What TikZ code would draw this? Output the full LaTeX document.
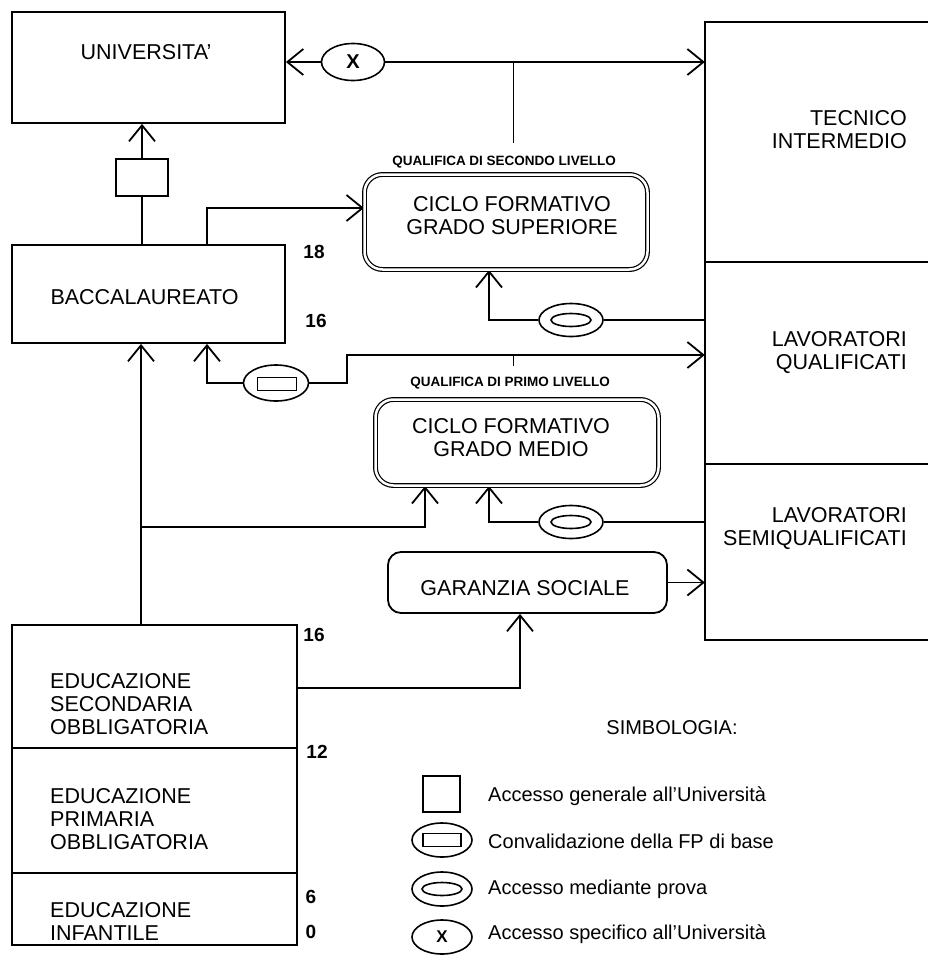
\documentclass[tikz,border=0pt]{standalone}
\usepackage{fontspec}
\setmainfont{Liberation Sans}
\usetikzlibrary{shapes.geometric,arrows.meta}
\pgfdeclarelayer{edgelayer}
\pgfdeclarelayer{nodelayer}
\pgfsetlayers{edgelayer,nodelayer,main}
\tikzstyle{box}=[rectangle, draw=black, line width=1.8pt, fill=white, inner sep=0pt]
\tikzstyle{openbox}=[rectangle, inner sep=0pt, minimum width=223pt]
\tikzstyle{roundbox}=[rectangle, rounded corners=13pt, draw=black, line width=1.8pt, fill=white, inner sep=0pt]
\tikzstyle{dblbox}=[rectangle, rounded corners=18pt, draw=black, double, double distance=2.5pt, line width=1.2pt, fill=white, inner sep=0pt]
\tikzstyle{oval}=[ellipse, draw=black, line width=1.6pt, fill=white, inner sep=0pt]
\tikzstyle{innerrect}=[rectangle, draw=black, line width=1.6pt, minimum width=39pt, minimum height=13pt, inner sep=0pt]
\tikzstyle{innerov}=[ellipse, draw=black, line width=1.6pt, minimum width=40pt, minimum height=13pt, inner sep=0pt]
\tikzstyle{txt}=[font=\fontsize{21.5}{23}\selectfont, align=center, inner sep=0pt]
\tikzstyle{legtxt}=[font=\fontsize{20}{23}\selectfont, inner sep=0pt]
\tikzstyle{qualif}=[font=\fontsize{13.5}{14}\selectfont\bfseries, inner sep=0pt]
\tikzstyle{age}=[font=\fontsize{19}{20}\selectfont\bfseries, inner sep=0pt]
\tikzstyle{plainedge}=[draw=black, line width=1.8pt]
\tikzstyle{thinedge}=[draw=black, line width=1pt]
\tikzstyle{arrowedge}=[draw=black, line width=1.8pt, -{Straight Barb[length=16pt, width=26pt]}]

\begin{document}
\begin{tikzpicture}[x=1pt, y=-1pt]
	\useasboundingbox (0, 0) rectangle (928, 956);
	\begin{pgfonlayer}{nodelayer}
		\node [style=box, minimum width=273pt, minimum height=111pt] (1) at (148.5, 67.5) {};
		\node [style=box, minimum width=52pt, minimum height=37pt] (2) at (142, 177.5) {};
		\node [style=box, minimum width=273pt, minimum height=98pt] (3) at (148.5, 294) {};
		\node [style=dblbox, minimum width=283pt, minimum height=95pt] (4) at (506, 222) {};
		\node [style=openbox, minimum height=240pt] (5) at (816.5, 142) {};
		\node [style=openbox, minimum height=202pt] (6) at (816.5, 363) {};
		\node [style=openbox, minimum height=176pt] (7) at (816.5, 552) {};
		\node [style=dblbox, minimum width=283pt, minimum height=86pt] (8) at (517, 442.5) {};
		\node [style=roundbox, minimum width=279pt, minimum height=61pt] (9) at (527.5, 582.5) {};
		\node [style=box, minimum width=285pt, minimum height=123pt] (10) at (154.5, 686.5) {};
		\node [style=box, minimum width=285pt, minimum height=125pt] (11) at (154.5, 810.5) {};
		\node [style=box, minimum width=285pt, minimum height=72pt] (12) at (154.5, 909) {};
		% simboli sulle frecce
		\node [style=oval, minimum width=63pt, minimum height=37pt, font=\fontsize{20}{20}\selectfont\bfseries] (13) at (353, 62) {X};
		\node [style=oval, minimum width=64pt, minimum height=33pt] (14) at (571, 320) {};
		\node [style=innerov] (15) at (571, 320) {};
		\node [style=oval, minimum width=65pt, minimum height=36pt] (16) at (276, 383) {};
		\node [style=innerrect] (17) at (277, 384) {};
		\node [style=oval, minimum width=64pt, minimum height=33pt] (18) at (571, 522) {};
		\node [style=innerov] (19) at (571, 522) {};
		% testi
		\node [style=txt] (t1) at (146, 52.5) {UNIVERSITA'};
		\node [style=txt] (t3) at (144.5, 297.5) {BACCALAUREATO};
		\node [style=txt] (t4) at (512, 216) {CICLO FORMATIVO\\GRADO SUPERIORE};
		\node [style=qualif] (q4) at (504, 162) {QUALIFICA DI SECONDO LIVELLO};
		\node [style=txt, anchor=east, align=right] (t5) at (907, 130) {TECNICO\\INTERMEDIO};
		\node [style=txt, anchor=east, align=right] (t6) at (907, 353) {LAVORATORI\\QUALIFICATI};
		\node [style=txt, anchor=east, align=right] (t7) at (907, 529) {LAVORATORI\\SEMIQUALIFICATI};
		\node [style=qualif] (q8) at (510, 383) {QUALIFICA DI PRIMO LIVELLO};
		\node [style=txt] (t8) at (511, 438) {CICLO FORMATIVO\\GRADO MEDIO};
		\node [style=txt] (t9) at (525, 588) {GARANZIA SOCIALE};
		\node [style=txt, anchor=west, align=left] (t10) at (50, 704) {EDUCAZIONE\\SECONDARIA\\OBBLIGATORIA};
		\node [style=txt, anchor=west, align=left] (t11) at (50, 819) {EDUCAZIONE\\PRIMARIA\\OBBLIGATORIA};
		\node [style=txt, anchor=west, align=left] (t12) at (50, 921) {EDUCAZIONE\\INFANTILE};
		% eta'
		\node [style=age] (e1) at (314, 252) {18};
		\node [style=age] (e2) at (316, 321) {16};
		\node [style=age] (e3) at (314, 635) {16};
		\node [style=age] (e4) at (317, 752) {12};
		\node [style=age] (e5) at (311, 897) {6};
		\node [style=age] (e6) at (311, 932) {0};
		% simbologia
		\node [style=legtxt] (20) at (672, 728) {SIMBOLOGIA:};
		\node [style=box, line width=1.4pt, minimum width=37pt, minimum height=36pt] (21) at (441.5, 794) {};
		\node [style=oval, minimum width=60pt, minimum height=34pt] (22) at (442, 840) {};
		\node [style=innerrect, minimum width=38pt] (23) at (442, 840) {};
		\node [style=oval, minimum width=60pt, minimum height=34pt] (24) at (442, 889) {};
		\node [style=innerov] (25) at (442, 889) {};
		\node [style=oval, minimum width=60pt, minimum height=34pt, font=\fontsize{17}{17}\selectfont\bfseries] (26) at (442, 937) {X};
		\node [style=legtxt, anchor=west] (l1) at (488, 796) {Accesso generale all'Università};
		\node [style=legtxt, anchor=west] (l2) at (488, 841) {Convalidazione della FP di base};
		\node [style=legtxt, anchor=west] (l3) at (488, 889) {Accesso mediante prova};
		\node [style=legtxt, anchor=west] (l4) at (488, 934) {Accesso specifico all'Università};
	\end{pgfonlayer}
	\begin{pgfonlayer}{edgelayer}
		\coordinate (a1) at (207, 208);
		\coordinate (a2) at (513, 143);
		\coordinate (a3) at (489, 320);
		\coordinate (a4) at (207, 383);
		\coordinate (a5) at (347, 355);
		\coordinate (a6) at (513, 366);
		\coordinate (a7) at (141, 527);
		\coordinate (a8) at (425, 527);
		\coordinate (a9) at (489, 522);
		\coordinate (a10) at (520, 688);
		% colonna di destra
		\draw [style=plainedge] (5.north east) -- (5.north west) -- (5.south west) -- (5.south east);
		\draw [style=plainedge] (6.north west) -- (6.south west) -- (6.south east);
		\draw [style=plainedge] (7.north west) -- (7.south west) -- (7.south east);
		% frecce
		\draw [style=plainedge] (2.south) -- (2.south |- 3.north);
		\draw [style=arrowedge] (2.north) -- (2.north |- 1.south);
		\draw [style=arrowedge] (a1 |- 3.north) -- (a1) -- (a1 -| 4.west);
		\draw [style=arrowedge] (13.west) -- (13.west -| 1.east);
		\draw [style=arrowedge] (13.east) -- (13.east -| 5.west);
		\draw [style=thinedge] (a2) -- (a2 |- 13.east);
		\draw [style=arrowedge] (14.west) -- (a3) -- (a3 |- 4.south);
		\draw [style=plainedge] (14.east) -- (14.east -| 6.west);
		\draw [style=arrowedge] (16.west) -- (a4) -- (a4 |- 3.south);
		\draw [style=arrowedge] (16.east) -- (a5 |- 16.east) -- (a5) -- (a5 -| 6.west);
		\draw [style=thinedge] (a6) -- (a6 |- a5);
		\draw [style=arrowedge] (a7 |- 10.north) -- (a7 |- 3.south);
		\draw [style=arrowedge] (a7) -- (a8) -- (a8 |- 8.south);
		\draw [style=arrowedge] (18.west) -- (a9) -- (a9 |- 8.south);
		\draw [style=plainedge] (18.east) -- (18.east -| 7.west);
		\draw [style=arrowedge] (a10 -| 10.east) -- (a10) -- (a10 |- 9.south);
		\draw [style=arrowedge] (9.east) -- (9.east -| 7.west);
	\end{pgfonlayer}
\end{tikzpicture}
\end{document}
